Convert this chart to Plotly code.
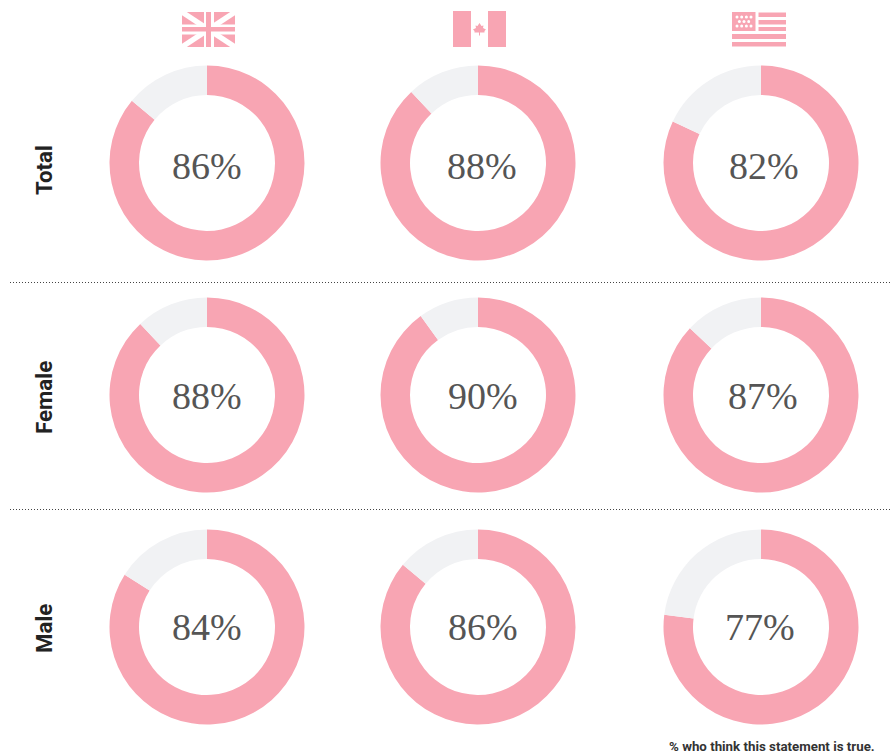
import plotly.graph_objects as go

W, H = 890, 753
countries = ["UK", "Canada", "USA"]
groups = ["Total", "Female", "Male"]
total_values = [86, 88, 82]
female_values = [88, 90, 87]
male_values = [84, 86, 77]
footnote = "% who think this statement is true."

PINK = "#F8A5B3"
GREY = "#F1F2F4"
col_cx = [207, 478, 761]
row_cy = [163, 395, 627]
label_cx = [[206.5, 482, 763.5], [207, 482.5, 763], [206.5, 482.5, 760]]
label_cy = [166, 396, 627]
group_cy = [170.5, 397.5, 628.5]
R = 97.5


def px(x):
    return x / W


def py(y):
    return 1 - y / H


def rect(x0, y0, x1, y1, color=PINK):
    return dict(type="rect", xref="paper", yref="paper", x0=px(x0), x1=px(x1), y0=py(y0), y1=py(y1),
                fillcolor=color, line_width=0, layer="above")


def poly(points, color):
    d = "M " + " L ".join(f"{px(x):.5f},{py(y):.5f}" for x, y in points) + " Z"
    return dict(type="path", xref="paper", yref="paper", path=d, fillcolor=color, line_width=0, layer="above")


def dot(x, y, r, color="white"):
    return dict(type="circle", xref="paper", yref="paper", x0=px(x - r), x1=px(x + r), y0=py(y - r), y1=py(y + r),
                fillcolor=color, line_width=0, layer="above")


fig = go.Figure()
shapes = []
annotations = []

for r, (group, values) in enumerate(zip(groups, [total_values, female_values, male_values])):
    for c, v in enumerate(values):
        fig.add_trace(go.Pie(
            values=[v, 100 - v], labels=["Agree", "Other"], sort=False, direction="clockwise", rotation=0,
            hole=68 / R, textinfo="none", showlegend=False,
            marker=dict(colors=[PINK, GREY], line=dict(width=0)),
            domain=dict(x=[px(col_cx[c] - R), px(col_cx[c] + R)], y=[py(row_cy[r] + R), py(row_cy[r] - R)]),
            name=f"{group} {countries[c]}",
        ))
        annotations.append(dict(text=f"{v}%", x=px(label_cx[r][c]), y=py(label_cy[r]), xref="paper", yref="paper",
                                showarrow=False, xanchor="center", yanchor="middle",
                                font=dict(family="Liberation Serif", size=38, color="#555555")))
    annotations.append(dict(text=f"<b>{group}</b>", x=px(43.5), y=py(group_cy[r]), xref="paper", yref="paper",
                            showarrow=False, textangle=-90, xanchor="center", yanchor="middle",
                            font=dict(family="Roboto", size=22.3, color="#222222")))

for y in (282.5, 509.5):
    shapes.append(dict(type="line", xref="paper", yref="paper", x0=px(10), x1=1, y0=py(y), y1=py(y),
                       line=dict(color="#444444", width=1, dash="1px,2px")))

annotations.append(dict(text=f"<b>{footnote}</b>", x=px(877), y=py(746.5), xref="paper", yref="paper",
                        showarrow=False, xanchor="right", yanchor="middle",
                        font=dict(family="Roboto", size=13.3, color="#333333")))

# UK flag
x0, y0, x1, y1 = 182, 12, 235, 47
shapes.append(rect(x0, y0, x1, y1))
t = 3.2
shapes.append(poly([(x0, y0), (x0 + t * 1.5, y0), (x1, y1 - t), (x1, y1), (x1 - t * 1.5, y1), (x0, y0 + t)], "white"))
shapes.append(poly([(x1, y0), (x1 - t * 1.5, y0), (x0, y1 - t), (x0, y1), (x0 + t * 1.5, y1), (x1, y0 + t)], "white"))
shapes.append(rect(204, y0, 214, y1, "white"))
shapes.append(rect(x0, 24.5, x1, 34.5, "white"))
shapes.append(rect(206, y0, 211, y1))
shapes.append(rect(x0, 27, x1, 31.5))

# Canadian flag
shapes.append(rect(453, 11, 471, 47))
shapes.append(rect(488, 11, 506, 47))
leaf = [(479.5, 23), (481.5, 26), (483.5, 25.5), (483, 28), (486, 29.5), (484.5, 31), (484.5, 32.5),
        (480, 32.5), (480, 35.5), (479, 35.5), (479, 32.5), (474.5, 32.5), (474.5, 31), (473, 29.5),
        (476, 28), (475.5, 25.5), (477.5, 26)]
shapes.append(poly(leaf, PINK))

# US flag
shapes.append(rect(732, 12, 755.5, 31))
for ya, yb in [(12.5, 17), (20, 24.5), (27, 31)]:
    shapes.append(rect(758.5, ya, 786, yb))
for ya, yb in [(34, 39), (42, 46.5)]:
    shapes.append(rect(732, ya, 786, yb))
for row_y, xs in [(17, (737, 741.7, 746.4, 751)), (21.5, (739.4, 744, 748.7)), (26, (737, 741.7, 746.4, 751))]:
    for sx in xs:
        shapes.append(dot(sx, row_y, 1.5))

fig.update_layout(width=W, height=H, margin=dict(l=0, r=0, t=0, b=0), paper_bgcolor="white", plot_bgcolor="white",
                  shapes=shapes, annotations=annotations)
fig.write_html("out.html", config={"displayModeBar": False},
               post_script="document.body.style.margin='0';document.documentElement.style.overflow='hidden';")
